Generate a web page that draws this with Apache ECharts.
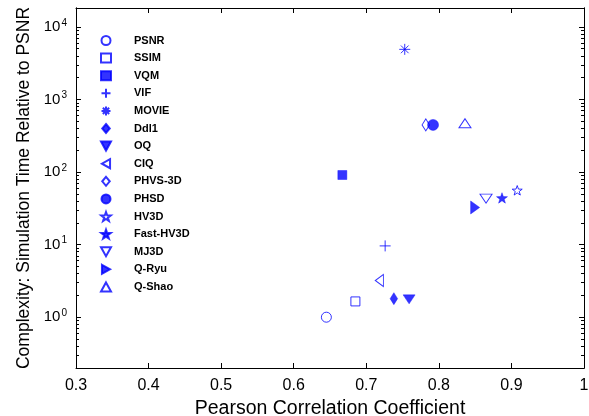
<!DOCTYPE html>
<html>
<head>
<meta charset="utf-8">
<script src="https://cdn.jsdelivr.net/npm/echarts@6/dist/echarts.min.js"></script>
<style>
  html, body { margin: 0; padding: 0; background: #fff; }
  #chart { width: 589px; height: 416px; }
</style>
</head>
<body>
<div id="chart"></div>
<script>
const methods = ['PSNR', 'SSIM', 'VQM', 'VIF', 'MOVIE', 'Ddl1', 'OQ', 'CIQ', 'PHVS-3D', 'PHSD', 'HV3D', 'Fast-HV3D', 'MJ3D', 'Q-Ryu', 'Q-Shao'];
const pcc = [0.645, 0.685, 0.667, 0.726, 0.753, 0.738, 0.759, 0.718, 0.782, 0.792, 0.908, 0.887, 0.865, 0.850, 0.836];
const complexity = [1, 1.65, 91, 9.6, 4900, 1.8, 1.76, 3.2, 446, 446, 56, 44, 43, 32.5, 470];
const yTicks = [1, 10, 100, 1000, 10000];

const BLUE = '#0000ff';
const font = 'Liberation Sans, Arial, sans-serif';
const yMin = Math.pow(10, -0.7), yMax = Math.pow(10, 4.26);

// pentagram path
function star(inner) {
  let d = '';
  for (let i = 0; i < 10; i++) {
    const r = i % 2 ? inner : 10;
    const a = -Math.PI / 2 + i * Math.PI / 5;
    d += (i ? 'L' : 'M') + (10 + r * Math.cos(a)).toFixed(2) + ',' + (10 + r * Math.sin(a)).toFixed(2);
  }
  return 'path://' + d + 'Z';
}

// marker per method: [symbol, size, filled]
const markers = {
  'PSNR': ['circle', 10, false],
  'SSIM': ['rect', 9, false],
  'VQM': ['rect', 9, true],
  'VIF': ['path://M5,0L5,10M0,5L10,5', 11, false],
  'MOVIE': ['path://M5,0L5,10M0,5L10,5M1.5,1.5L8.5,8.5M8.5,1.5L1.5,8.5', 11, false],
  'Ddl1': ['path://M5,0L10,6L5,12L0,6Z', [9, 12], true],
  'OQ': ['path://M0,0L10,0L5,9Z', [12, 10], true],
  'CIQ': ['path://M9,0L0,5L9,10Z', [9, 12], false],
  'PHVS-3D': ['path://M5,0L10,6L5,12L0,6Z', [9, 12], false],
  'PHSD': ['circle', 11, true],
  'HV3D': [star(4), 10, false],
  'Fast-HV3D': [star(4), 11, true],
  'MJ3D': ['path://M0,0L10,0L5,9Z', [12, 10], false],
  'Q-Ryu': ['path://M0,0L9,5L0,10Z', [10, 13], true],
  'Q-Shao': ['path://M5,0L10,9L0,9Z', [12, 10], false]
};

const series = methods.map((name, i) => {
  const [symbol, size, filled] = markers[name];
  return {
    name, type: 'scatter',
    xAxisIndex: 0, yAxisIndex: 0,
    symbol, symbolSize: size, symbolKeepAspect: true,
    itemStyle: filled
      ? { color: BLUE, borderColor: BLUE, borderWidth: 0.5 }
      : { color: 'rgba(0,0,0,0)', borderColor: BLUE, borderWidth: 1 },
    emphasis: { disabled: true },
    data: [[pcc[i], complexity[i]]]
  };
});

const minorTicks = [];
for (let e = -1; e <= 4; e++) {
  for (let m = 2; m <= 9; m++) {
    const v = m * Math.pow(10, e);
    if (v >= yMin && v <= yMax) minorTicks.push(v);
  }
}

const line = { show: true, lineStyle: { color: '#000', width: 1 } };
function yAx(pos, ticks, len, opts) {
  return Object.assign({
    type: 'log', position: pos, offset: 0, min: yMin, max: yMax, logBase: 10,
    axisLine: line, splitLine: { show: false },
    axisTick: { show: true, inside: true, length: len, customValues: ticks, lineStyle: { color: '#000' } },
    axisLabel: { show: false }
  }, opts || {});
}

const chart = echarts.init(document.getElementById('chart'), null, { renderer: 'canvas' });
chart.setOption({
  animation: false,
  textStyle: { fontFamily: font },
  grid: { left: 76, right: 5, top: 8, bottom: 48, outerBoundsMode: 'none', containLabel: false },
  legend: {
    orient: 'vertical', left: 95, top: 30,
    itemWidth: 10, itemHeight: 9, itemGap: 6.6,
    symbolKeepAspect: true,
    selectedMode: false,
    textStyle: { fontSize: 11, fontWeight: 'bold', color: '#000', fontFamily: font, padding: [0, 0, 0, 18] },
    data: methods
  },
  xAxis: [{
    type: 'value', position: 'bottom', min: 0.3, max: 1, interval: 0.1,
    name: 'Pearson Correlation Coefficient', nameLocation: 'middle', nameGap: 23,
    nameTextStyle: { fontSize: 19.5, color: '#000', fontFamily: font },
    axisLine: line, splitLine: { show: false },
    axisTick: { inside: true, length: 5, lineStyle: { color: '#000' } },
    axisLabel: { fontSize: 16, color: '#000', margin: 10, fontFamily: font }
  }, {
    type: 'value', position: 'top', min: 0.3, max: 1, interval: 0.1,
    axisLine: line, splitLine: { show: false },
    axisTick: { inside: true, length: 5, lineStyle: { color: '#000' } },
    axisLabel: { show: false }
  }],
  yAxis: [
    yAx('left', yTicks, 5, {
      name: 'Complexity: Simulation Time Relative to PSNR', nameLocation: 'middle', nameGap: 43,
      nameTextStyle: { fontSize: 17.5, color: '#000', fontFamily: font },
      axisLabel: {
        show: true, margin: 9, customValues: yTicks,
        formatter: v => '{b|10}{s|' + Math.round(Math.log10(v)) + '}',
        rich: {
          b: { fontSize: 15, color: '#000', fontFamily: font },
          s: { fontSize: 10, color: '#000', fontFamily: font, verticalAlign: 'top', padding: [0, 0, 8, 1] }
        }
      }
    }),
    yAx('right', yTicks, 5),
    yAx('left', minorTicks, 3),
    yAx('right', minorTicks, 3)
  ],
  series
});
</script>
</body>
</html>
